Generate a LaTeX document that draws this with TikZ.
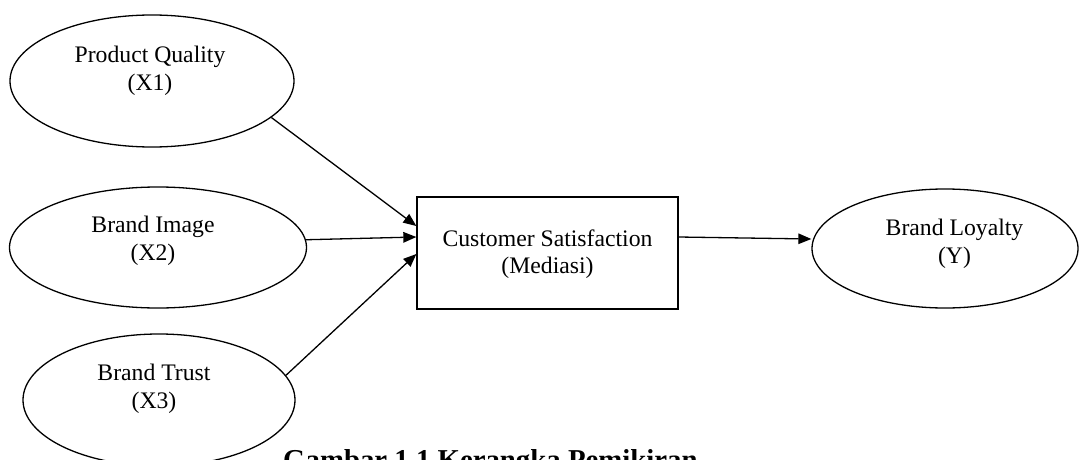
\documentclass[tikz,border=0pt]{standalone}
\usepackage{fontspec}
\setmainfont{Liberation Serif}
\usetikzlibrary{shapes.geometric,arrows.meta}
\begin{document}
\begin{tikzpicture}[x=1pt,y=-1pt,
  oval/.style={draw,ellipse,line width=1.3pt,inner sep=0pt},
  rectbox/.style={draw,rectangle,line width=1.3pt,inner sep=0pt},
  lbl/.style={align=center,font=\fontsize{23.7}{27.5}\selectfont,inner sep=0pt},
  conn/.style={line width=1.3pt,-{Triangle[length=13pt,width=10.5pt]}}]
\useasboundingbox (0,0) rectangle (1081,460);
\clip (0,0) rectangle (1081,460);
\fill[white] (0,0) rectangle (1081,460);
% shapes
\node[oval,minimum width=284pt,minimum height=132pt] (x1) at (152,81) {};
\node[oval,minimum width=297pt,minimum height=121pt] (x2) at (158,247.5) {};
\node[oval,minimum width=272pt,minimum height=132pt] (x3) at (159,400) {};
\node[rectbox,minimum width=261pt,minimum height=112pt] (cs) at (547.5,253) {};
\node[oval,minimum width=266pt,minimum height=119pt] (y) at (945,248.5) {};
% labels
\node[lbl] (t1) at (150,71) {Product Quality\\(X1)};
\node[lbl] (t2) at (153,241) {Brand Image\\(X2)};
\node[lbl] (t3) at (154,389) {Brand Trust\\(X3)};
\node[lbl] (tc) at (547.5,254) {Customer Satisfaction\\(Mediasi)};
\node[lbl] (ty) at (954.5,244) {Brand Loyalty\\(Y)};
% connectors
\draw[conn] (x1.-17.7) -- ([yshift=27pt]cs.west);
\draw[conn] (x2.3.8) -- ([yshift=16pt]cs.west);
\draw[conn] (x3.11.2) -- ([yshift=-1pt]cs.west);
\draw[conn] ([yshift=16pt]cs.east) -- ([yshift=9.5pt]y.west);
% caption
\node[anchor=base west,inner sep=0pt,font=\fontsize{28.8}{34}\selectfont\bfseries] (cap) at (283,469) {Gambar 1.1 Kerangka Pemikiran};
\end{tikzpicture}
\end{document}
